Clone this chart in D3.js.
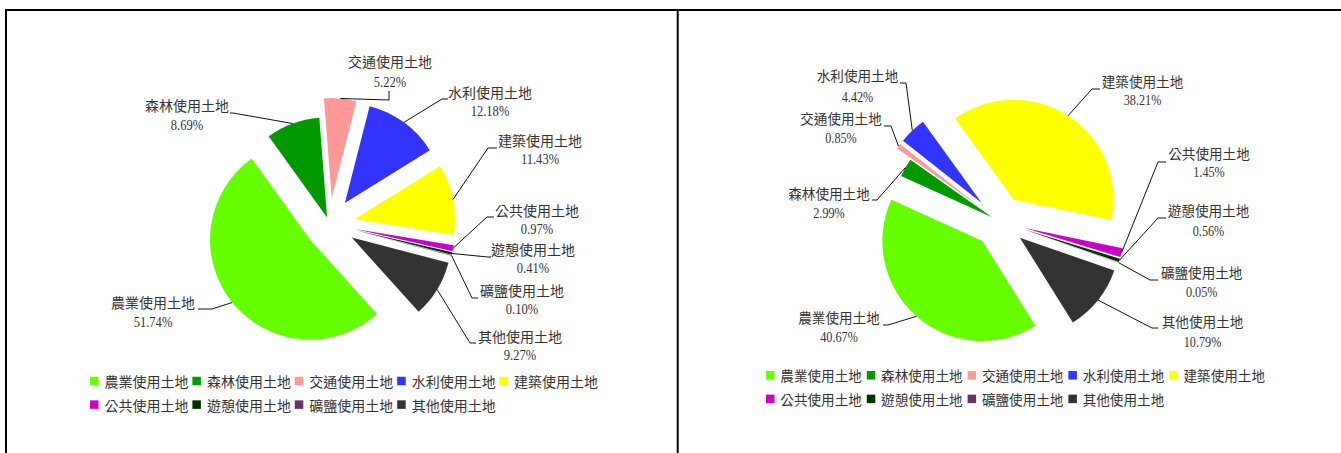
<!DOCTYPE html>
<html><head><meta charset="utf-8">
<script src="https://cdn.jsdelivr.net/npm/d3@7"></script>
<style>body{margin:0;background:#fff;} svg{display:block}</style>
</head><body>
<svg id="chart" width="1341" height="453"></svg>
<script>
// ---- data ----
const categories = ["農業使用土地","森林使用土地","交通使用土地","水利使用土地","建築使用土地","公共使用土地","遊憩使用土地","礦鹽使用土地","其他使用土地"];
const leftValues  = [51.74, 8.69, 5.22, 12.18, 11.43, 0.97, 0.41, 0.10, 9.27];
const rightValues = [40.67, 2.99, 0.85, 4.42, 38.21, 1.45, 0.56, 0.05, 10.79];
const colors = ["#66FF00","#009900","#FF9999","#3333FF","#FFFF00","#CC00CC","#003300","#663366","#333333"];

// ---- layout (positions / styles) ----
const leftLayout = {
  cx: 329.5, cy: 224, r: 100, start: 138,
  explode: [25, 7, 26, 26, 26, 26, 26, 26, 26],
  nameSize: 14, pctSize: 14.6, pctScale: 0.86,
  labels: [ // [centerX, nameY, pctY, [leader points after arc point]]
    [153, 302, 322, [[212,309],[198,309]]],
    [187, 105, 125, [[233,113],[230,113]]],
    [390, 61, 82, [[389,100],[389,91]]],
    [490, 92, 111, [[442,99],[448,99]]],
    [540, 140, 159, [[488,148],[497,148]]],
    [537, 210, 229, [[487,217],[494,217]]],
    [533, 249, 268, [[488,257],[491,257]]],
    [522, 290, 309, [[472,298],[478,298]]],
    [520, 336, 355, [[470,343],[476,343]]]
  ],
  legend: {x0: 90, pitch: 102.4, rows: [381, 404.6], sq: 8.5, gap: 6, font: 14}
};
const rightLayout = {
  cx: 999.5, cy: 221.5, r: 100, start: 148,
  explode: [26, 8.5, 26, 26, 26, 26, 26, 26, 26],
  nameSize: 13.6, pctSize: 14.2, pctScale: 0.86,
  labels: [
    [839, 317, 337, [[888,325],[883,325]]],
    [829, 193, 213, [[877,200],[872,200]]],
    [841, 118, 138, [[891,126],[884,126]]],
    [857.5, 75, 97, [[906,83],[900,83]]],
    [1142.5, 81, 100, [[1092,89],[1100,89]]],
    [1209, 153, 172, [[1158,162],[1166,162]]],
    [1208.5, 210, 231, [[1158,218],[1166,218]]],
    [1201.7, 272, 292, [[1150,280],[1158,280]]],
    [1202.5, 321, 342, [[1152,328],[1158,328]]]
  ],
  legend: {x0: 766, pitch: 100.8, rows: [375.3, 398.9], sq: 8.5, gap: 5.8, font: 13.6}
};

const svg = d3.select("#chart");
const CJK = "'Noto Sans CJK TC','Noto Sans CJK SC',sans-serif";
const SERIF = "'Liberation Serif','DejaVu Serif',serif";

function drawPie(values, L) {
  const g = svg.append("g");
  const pie = d3.pie().sort(null).value(d => d)
    .startAngle(L.start * Math.PI / 180)
    .endAngle(L.start * Math.PI / 180 + 2 * Math.PI);
  const arcs = pie(values);
  const arc = d3.arc().innerRadius(0).outerRadius(L.r);

  arcs.forEach((a, i) => {
    const mid = (a.startAngle + a.endAngle) / 2;
    const ux = Math.sin(mid), uy = -Math.cos(mid);
    const ax = L.cx + L.explode[i] * ux, ay = L.cy + L.explode[i] * uy;
    g.append("path")
      .attr("d", arc(a))
      .attr("transform", `translate(${ax},${ay})`)
      .attr("fill", colors[i]);
    // leader line
    const lab = L.labels[i];
    const pts = [[ax + L.r * ux, ay + L.r * uy]].concat(lab[3]);
    g.append("path")
      .attr("d", d3.line()(pts))
      .attr("fill", "none")
      .attr("stroke", "#111")
      .attr("stroke-width", 1);
    // labels
    g.append("text")
      .attr("x", lab[0]).attr("y", lab[1])
      .attr("text-anchor", "middle").attr("dominant-baseline", "central")
      .attr("font-family", CJK).attr("font-size", L.nameSize)
      .attr("fill", "#333")
      .text(categories[i]);
    g.append("text")
      .attr("transform", `translate(${lab[0]},${lab[2]}) scale(${L.pctScale},1)`)
      .attr("text-anchor", "middle").attr("dominant-baseline", "central")
      .attr("font-family", SERIF).attr("font-size", L.pctSize)
      .attr("fill", "#333")
      .text(values[i].toFixed(2) + "%");
  });

  // legend
  const lg = L.legend;
  categories.forEach((c, i) => {
    const row = i < 5 ? 0 : 1;
    const col = i < 5 ? i : i - 5;
    const x = lg.x0 + col * lg.pitch, y = lg.rows[row];
    g.append("rect")
      .attr("x", x).attr("y", y - lg.sq / 2)
      .attr("width", lg.sq).attr("height", lg.sq)
      .attr("fill", colors[i]);
    g.append("text")
      .attr("x", x + lg.sq + lg.gap).attr("y", y)
      .attr("dominant-baseline", "central")
      .attr("font-family", CJK).attr("font-size", lg.font)
      .attr("fill", "#333")
      .text(c);
  });
}

// frame
svg.append("line").attr("x1", 5).attr("x2", 1341).attr("y1", 10).attr("y2", 10)
  .attr("stroke", "#000").attr("stroke-width", 2);
svg.append("line").attr("x1", 6).attr("x2", 6).attr("y1", 9).attr("y2", 453)
  .attr("stroke", "#000").attr("stroke-width", 2);
svg.append("line").attr("x1", 677.7).attr("x2", 677.7).attr("y1", 9).attr("y2", 453)
  .attr("stroke", "#000").attr("stroke-width", 2);

drawPie(leftValues, leftLayout);
drawPie(rightValues, rightLayout);
</script>
</body></html>
